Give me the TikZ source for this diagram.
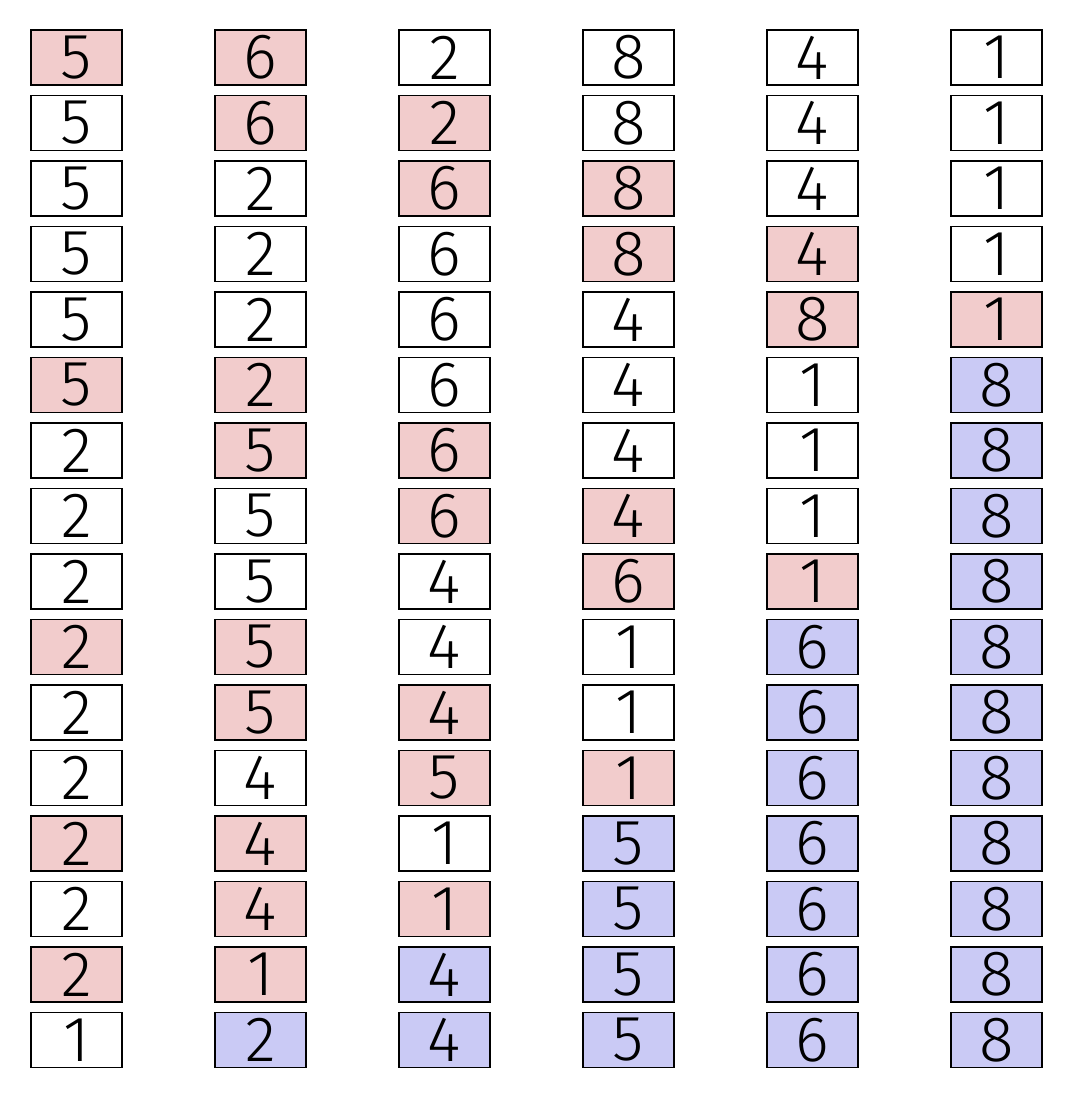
\documentclass[tikz,border=0pt]{standalone}
\usepackage{fontspec}
\setmainfont{Fira Sans}[UprightFont=* Light]
\definecolor{pinkcell}{RGB}{242,204,204}
\definecolor{bluecell}{RGB}{202,202,245}

\begin{document}
\begin{tikzpicture}[
                x=0.5pt, y=-0.5pt,
                every node/.style={font=\fontsize{32}{32}\selectfont},
                cell/.style={draw=black, line width=0.7pt, minimum width=45.5pt, minimum height=27.5pt, inner sep=0pt},
                wh/.style={fill=white},
                pk/.style={fill=pinkcell},
                bl/.style={fill=bluecell}% cell colours
            ]

                \useasboundingbox (0,0) rectangle (1084,1098);

                % one list per column, value/colour from top to bottom
                \foreach \colvals [count=\i from 0] in {
                    {5/pk,5/wh,5/wh,5/wh,5/wh,5/pk,2/wh,2/wh,2/wh,2/pk,2/wh,2/wh,2/pk,2/wh,2/pk,1/wh},
                    {6/pk,6/pk,2/wh,2/wh,2/wh,2/pk,5/pk,5/wh,5/wh,5/pk,5/pk,4/wh,4/pk,4/pk,1/pk,2/bl},
                    {2/wh,2/pk,6/pk,6/wh,6/wh,6/wh,6/pk,6/pk,4/wh,4/wh,4/pk,5/pk,1/wh,1/pk,4/bl,4/bl},
                    {8/wh,8/wh,8/pk,8/pk,4/wh,4/wh,4/wh,4/pk,6/pk,1/wh,1/wh,1/pk,5/bl,5/bl,5/bl,5/bl},
                    {4/wh,4/wh,4/wh,4/pk,8/pk,1/wh,1/wh,1/wh,1/pk,6/bl,6/bl,6/bl,6/bl,6/bl,6/bl,6/bl},
                    {1/wh,1/wh,1/wh,1/wh,1/pk,8/bl,8/bl,8/bl,8/bl,8/bl,8/bl,8/bl,8/bl,8/bl,8/bl,8/bl}}
                {
                    \foreach \v/\c [count=\j from 0] in \colvals
                        \node[cell, \c] (c-\i-\j) at (76.5+184*\i, 57.5+65.5*\j) {\v};
                }

            \end{tikzpicture}
\end{document}
